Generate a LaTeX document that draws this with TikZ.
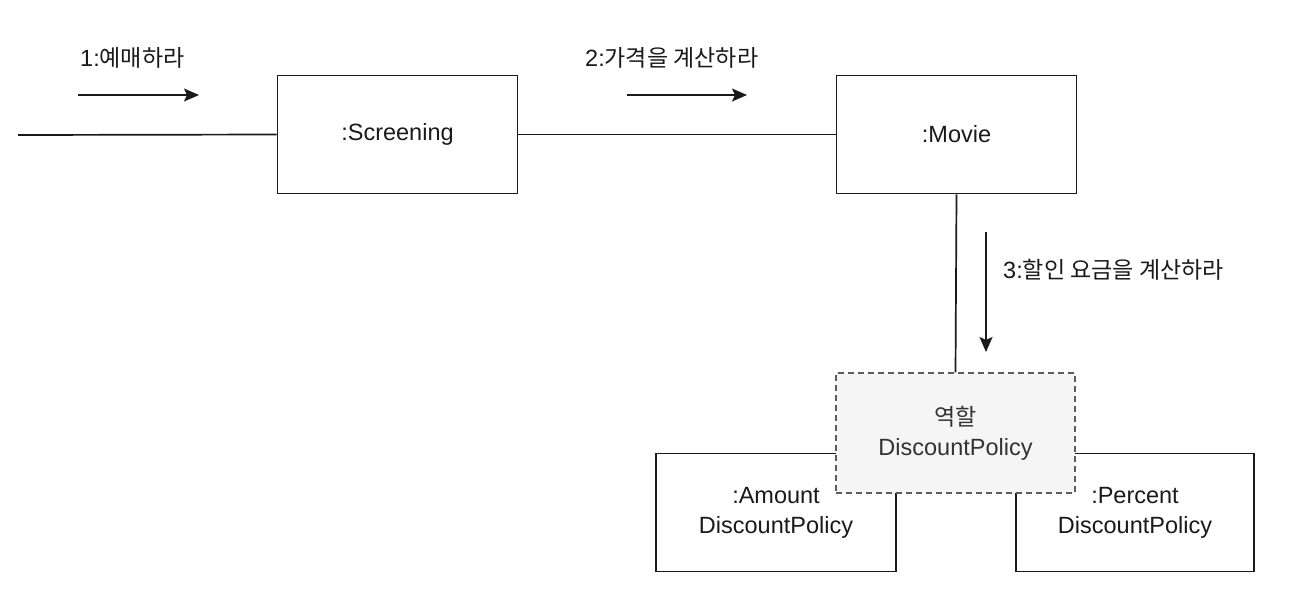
\documentclass[tikz,border=0pt]{standalone}
\usepackage{fontspec}
\setmainfont{Liberation Sans}
\newfontfamily\kr{Noto Sans CJK KR}[Scale=0.98]
\usetikzlibrary{arrows.meta}
\definecolor{ink}{HTML}{1A1A1A}
\definecolor{rolefill}{HTML}{F5F5F5}
\definecolor{roletext}{HTML}{333333}
\tikzset{
  obj/.style={draw=ink, line width=1.7pt, fill=white, rectangle, align=center,
    minimum width=240pt, minimum height=118pt, inner sep=0pt, text=ink,
    font=\fontsize{23.5}{30}\selectfont},
  role/.style={obj, dashed, dash pattern=on 6pt off 4pt, line width=1.3pt, draw=roletext!80,
    fill=rolefill, text=roletext, font=\fontsize{23.5}{30}\selectfont},
  link/.style={draw=ink, line width=1.7pt},
  msg/.style={draw=ink, line width=1.7pt, -{Stealth[length=15pt,width=13pt,inset=3pt]}},
  lbl/.style={text=ink, inner sep=0pt, font=\fontsize{23.5}{28}\selectfont, anchor=west},
}
\begin{document}
\begin{tikzpicture}[x=1pt,y=-1pt]
\useasboundingbox (0,0) rectangle (1292,590);
% objects
\node[obj] (scr) at (397.5,134.5) {:Screening};
\node[obj] (mov) at (956.5,134.5) {:Movie};
\node[obj] (amt) at (776,512.5) {:Amount\\DiscountPolicy};
\node[obj, minimum width=238pt] (pct) at (1135,512.5) {:Percent\\DiscountPolicy};
\node[role, minimum width=239pt, minimum height=120pt] (rol) at (955.5,433) {{\kr 역할}\\DiscountPolicy};
% links
\coordinate (in) at (18,135);
\draw[link] (in) -- (scr.west);
\draw[link] (scr.east) -- (mov.west);
\draw[link] (mov.south) -- (rol.north);
% messages
\coordinate (a1s) at (78,95);
\coordinate (a1e) at (199,95);
\draw[msg] (a1s) -- (a1e);
\node[lbl] (l1) at (80,58) {1:{\kr 예매하라}};
\coordinate (a2s) at (627,95);
\coordinate (a2e) at (747,95);
\draw[msg] (a2s) -- (a2e);
\node[lbl] (l2) at (585,58) {2:{\kr 가격을 계산하라}};
\coordinate (a3s) at (986,232);
\coordinate (a3e) at (986,352);
\draw[msg] (a3s) -- (a3e);
\node[lbl] (l3) at (1003,270) {3:{\kr 할인 요금을 계산하라}};
\end{tikzpicture}
\end{document}
